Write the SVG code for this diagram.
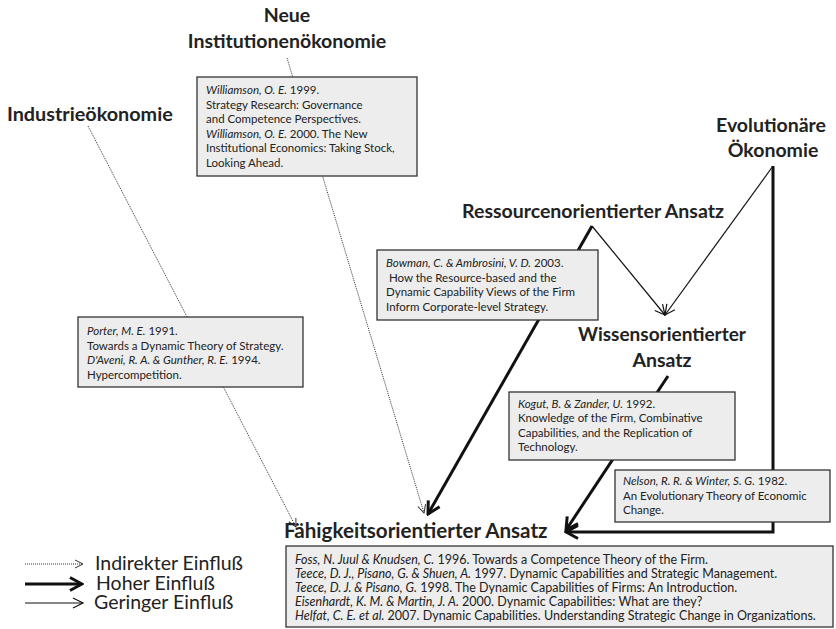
<svg xmlns="http://www.w3.org/2000/svg" width="836" height="629" viewBox="0 0 836 629">
  <style>
    .title { font-family: Lato, "Liberation Sans", sans-serif; font-weight: bold; font-size: 19.5px; fill: #222; }
    .ref { font-family: Lato, "Liberation Sans", sans-serif; font-size: 11.5px; fill: #222; }
    .refb { font-family: Lato, "Liberation Sans", sans-serif; font-size: 12.5px; fill: #222; }
    .leg { font-family: Lato, "Liberation Sans", sans-serif; font-size: 19.5px; fill: #222; }
    .box { fill: #ededed; stroke: #333; stroke-width: 1.3; }
    .it { font-style: italic; }
    .dotted { fill: none; stroke: #333; stroke-width: 1; stroke-dasharray: 1 1; }
    .thick { fill: none; stroke: #111; stroke-width: 3; }
    .thin { fill: none; stroke: #111; stroke-width: 1.2; }
  </style>
  <defs>
    <marker id="ahDot" markerUnits="userSpaceOnUse" viewBox="-10 -6 12 12" markerWidth="12" markerHeight="12" refX="0" refY="0" orient="auto">
      <path d="M-8,-4 L0,0 L-8,4" fill="none" stroke="#333" stroke-width="1"/>
    </marker>
    <marker id="ahThick" markerUnits="userSpaceOnUse" viewBox="-16 -9 18 18" markerWidth="18" markerHeight="18" refX="0" refY="0" orient="auto">
      <path d="M-12,-6.5 L0,0 L-12,6.5" fill="none" stroke="#111" stroke-width="3"/>
    </marker>
    <marker id="ahThin" markerUnits="userSpaceOnUse" viewBox="-12 -7 14 14" markerWidth="14" markerHeight="14" refX="0" refY="0" orient="auto">
      <path d="M-10,-5 L0,0 L-10,5" fill="none" stroke="#111" stroke-width="1.2"/>
    </marker>
  </defs>

  <!-- connectors -->
  <g id="connectors">
    <path class="dotted" d="M88,126 L296,527" marker-end="url(#ahDot)"/>
    <path class="dotted" d="M287,58 L424,513" marker-end="url(#ahDot)"/>
    <path class="thick" d="M592,226 L428,514" marker-end="url(#ahThick)"/>
    <path class="thin" d="M592,226 L665,315" marker-end="url(#ahThin)"/>
    <path class="thin" d="M773,166 L665,315" marker-end="url(#ahThin)"/>
    <path class="thick" d="M773,166 L773,532 L566,532" marker-end="url(#ahThick)"/>
    <path class="thick" d="M668,376 L566,530" marker-end="url(#ahThick)"/>
  </g>

  <!-- approaches -->
  <g id="industrie">
    <text class="title" x="7" y="121" style="font-size:19.8px">Industrieökonomie</text>
  </g>
  <g id="institutionen">
    <text class="title" x="287" y="22" text-anchor="middle">Neue</text>
    <text class="title" x="287" y="48" text-anchor="middle">Institutionenökonomie</text>
  </g>
  <g id="evolution">
    <text class="title" x="771" y="132" text-anchor="middle">Evolutionäre</text>
    <text class="title" x="773" y="157" text-anchor="middle">Ökonomie</text>
  </g>
  <g id="ressourcen">
    <text class="title" x="593" y="218" text-anchor="middle">Ressourcenorientierter Ansatz</text>
  </g>
  <g id="wissen">
    <text class="title" x="662" y="341" text-anchor="middle" style="font-size:19px">Wissensorientierter</text>
    <text class="title" x="662" y="367" text-anchor="middle">Ansatz</text>
  </g>
  <g id="faehigkeit">
    <text class="title" x="284" y="538" style="font-size:20.6px">Fähigkeitsorientierter Ansatz</text>
  </g>

  <!-- literature boxes -->
  <g id="box-williamson">
    <rect class="box" x="197" y="77" width="220" height="99"/>
    <text class="ref" x="206" y="94"><tspan class="it">Williamson, O. E.</tspan> 1999.</text>
    <text class="ref" x="206" y="108.5">Strategy Research: Governance</text>
    <text class="ref" x="206" y="123">and Competence Perspectives.</text>
    <text class="ref" x="206" y="137.5"><tspan class="it">Williamson, O. E.</tspan> 2000. The New</text>
    <text class="ref" x="206" y="152">Institutional Economics: Taking Stock,</text>
    <text class="ref" x="206" y="166.5">Looking Ahead.</text>
  </g>
  <g id="box-porter">
    <rect class="box" x="78" y="317" width="225" height="70"/>
    <text class="ref" x="87" y="335"><tspan class="it">Porter, M. E.</tspan> 1991.</text>
    <text class="ref" x="87" y="349.5">Towards a Dynamic Theory of Strategy.</text>
    <text class="ref" x="87" y="364"><tspan class="it">D'Aveni, R. A. &amp; Gunther, R. E.</tspan> 1994.</text>
    <text class="ref" x="87" y="378.5">Hypercompetition.</text>
  </g>
  <g id="box-bowman">
    <rect class="box" x="377" y="250" width="221" height="70"/>
    <text class="ref" x="386" y="267"><tspan class="it">Bowman, C. &amp; Ambrosini, V. D.</tspan> 2003.</text>
    <text class="ref" x="386" y="281.5" xml:space="preserve"> How the Resource-based and the</text>
    <text class="ref" x="386" y="296">Dynamic Capability Views of the Firm</text>
    <text class="ref" x="386" y="310.5">Inform Corporate-level Strategy.</text>
  </g>
  <g id="box-kogut">
    <rect class="box" x="509" y="392" width="226" height="68"/>
    <text class="ref" x="518" y="407.5"><tspan class="it">Kogut, B. &amp; Zander, U.</tspan> 1992.</text>
    <text class="ref" x="518" y="422">Knowledge of the Firm, Combinative</text>
    <text class="ref" x="518" y="436.5">Capabilities, and the Replication of</text>
    <text class="ref" x="518" y="451">Technology.</text>
  </g>
  <g id="box-nelson">
    <rect class="box" x="615" y="470" width="215" height="52"/>
    <text class="ref" x="623" y="485"><tspan class="it">Nelson, R. R. &amp; Winter, S. G.</tspan> 1982.</text>
    <text class="ref" x="623" y="499.5">An Evolutionary Theory of Economic</text>
    <text class="ref" x="623" y="514">Change.</text>
  </g>
  <g id="box-capabilities">
    <rect class="box" x="286" y="546" width="547" height="81"/>
    <text class="refb" x="295" y="564"><tspan class="it">Foss, N. Juul &amp; Knudsen, C.</tspan> 1996. Towards a Competence Theory of the Firm.</text>
    <text class="refb" x="295" y="578"><tspan class="it">Teece, D. J., Pisano, G. &amp; Shuen, A.</tspan> 1997. Dynamic Capabilities and Strategic Management.</text>
    <text class="refb" x="295" y="592"><tspan class="it">Teece, D. J. &amp; Pisano, G.</tspan> 1998. The Dynamic Capabilities of Firms: An Introduction.</text>
    <text class="refb" x="295" y="606"><tspan class="it">Eisenhardt, K. M. &amp; Martin, J. A.</tspan> 2000. Dynamic Capabilities: What are they?</text>
    <text class="refb" x="295" y="620"><tspan class="it">Helfat, C. E. et al.</tspan> 2007. Dynamic Capabilities. Understanding Strategic Change in Organizations.</text>
  </g>

  <!-- legend -->
  <g id="legend">
    <path class="dotted" d="M25,564 L83,564" marker-end="url(#ahDot)"/>
    <path class="thick" d="M25,584 L82,584" marker-end="url(#ahThick)"/>
    <path class="thin" d="M25,603 L83,603" marker-end="url(#ahThin)"/>
    <text class="leg" x="95" y="570">Indirekter Einfluß</text>
    <text class="leg" x="96" y="590">Hoher Einfluß</text>
    <text class="leg" x="94" y="609">Geringer Einfluß</text>
  </g>
</svg>
